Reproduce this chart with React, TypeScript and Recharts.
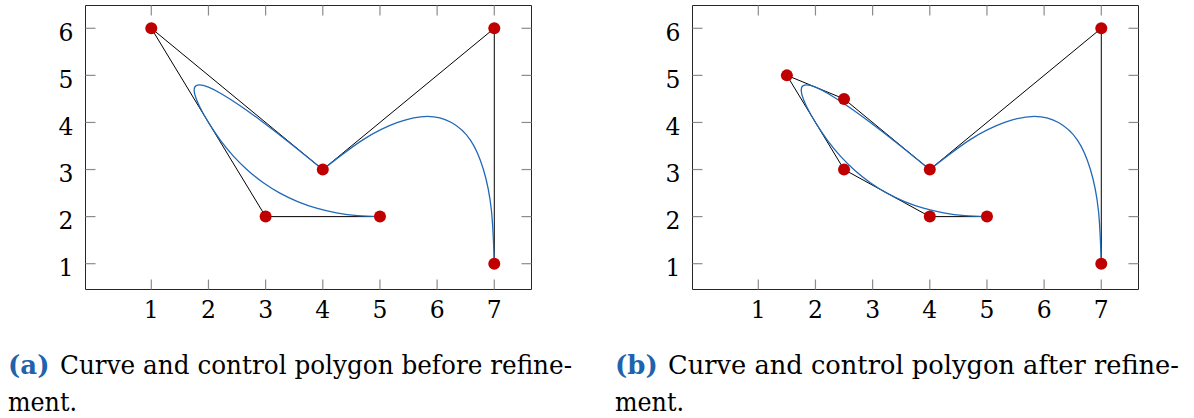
import React from 'react';
import { ComposedChart, Line, Scatter, XAxis, YAxis } from 'recharts';

// ---- data ----
const xTicks = [1, 2, 3, 4, 5, 6, 7];
const yTicks = [1, 2, 3, 4, 5, 6];

// control polygon before refinement
const beforeX = [5, 3, 1, 4, 7, 7];
const beforeY = [2, 2, 6, 3, 6, 1];
// control polygon after refinement
const afterX = [5, 4, 2.5, 1.5, 2.5, 4, 7, 7];
const afterY = [2, 2, 3, 5, 4.5, 3, 6, 1];

// curve, first piece: from (5,2) round the loop to (4,3)
const loopX = [5, 4.61, 4.24, 3.89, 3.56, 3.25, 2.96, 2.69, 2.44, 2.21, 2.0, 1.84, 1.76, 1.76, 1.84, 2.0, 2.24, 2.56, 2.96, 3.44, 4];
const loopY = [2, 2.02, 2.08, 2.18, 2.32, 2.5, 2.72, 2.98, 3.28, 3.62, 4.0, 4.35, 4.6, 4.75, 4.8, 4.75, 4.6, 4.35, 4.0, 3.55, 3];
// curve, second piece: from (4,3) over the arch down to (7,1)
const archX = [4, 4.7, 5.31, 5.83, 6.25, 6.58, 6.81, 6.95, 7];
const archY = [3, 3.63, 4.0, 4.13, 4.0, 3.63, 3.0, 2.13, 1];

const captionA = ['(a)', 'Curve and control polygon before refine-', 'ment.'];
const captionB = ['(b)', 'Curve and control polygon after refine-', 'ment.'];

// ---- styles ----
const X_DOMAIN: [number, number] = [-0.151, 7.651];
const Y_DOMAIN: [number, number] = [0.452, 6.484];
const FRAME = '#262626';
const TICK = '#8c8c8c';
const TICK_LEN = 10;
const RED = '#c00000';
const BLUE = '#2068b8';
const CAP_BLUE = '#1f63ad';
const FONT = 'DejaVu Serif';

type Pt = { x: number; y: number };
const zip = (xs: number[], ys: number[]): Pt[] => xs.map((x, i) => ({ x, y: ys[i] }));

const BottomTick = (p: any) => (
  <g>
    <line x1={p.x} x2={p.x} y1={p.y} y2={p.y - TICK_LEN} stroke={TICK} strokeWidth={1.2} />
    <text x={p.x} y={p.y + 28} textAnchor="middle" fontFamily={FONT} fontSize={23.5} fill="#000">
      {p.payload.value}
    </text>
  </g>
);
const TopTick = (p: any) => (
  <line x1={p.x} x2={p.x} y1={p.y} y2={p.y + TICK_LEN} stroke={TICK} strokeWidth={1.2} />
);
const LeftTick = (p: any) => (
  <g>
    <line x1={p.x} x2={p.x + TICK_LEN} y1={p.y} y2={p.y} stroke={TICK} strokeWidth={1.2} />
    <text x={p.x - 12} y={p.y + 12.3} textAnchor="end" fontFamily={FONT} fontSize={23.5} fill="#000">
      {p.payload.value}
    </text>
  </g>
);
const RightTick = (p: any) => (
  <line x1={p.x - TICK_LEN} x2={p.x} y1={p.y} y2={p.y} stroke={TICK} strokeWidth={1.2} />
);

const DotShape = (p: any) => <circle cx={p.cx} cy={p.cy} r={6} fill={RED} />;

function Panel({ control }: { control: Pt[] }) {
  const loop = zip(loopX, loopY);
  const arch = zip(archX, archY);
  const axisLine = { stroke: FRAME, strokeWidth: 1 };
  return (
    <ComposedChart width={560} height={340} margin={{ top: 4.5, right: 27.5, bottom: 10.5, left: 0 }}>
      <XAxis xAxisId="b" dataKey="x" type="number" domain={X_DOMAIN} allowDataOverflow ticks={xTicks}
        interval={0} tickSize={0} tickMargin={0} height={40} tickLine={false} axisLine={axisLine}
        tick={(p: any) => <BottomTick {...p} />} />
      <XAxis xAxisId="t" orientation="top" dataKey="x" type="number" domain={X_DOMAIN} allowDataOverflow ticks={xTicks}
        interval={0} tickSize={0} tickMargin={0} height={1} tickLine={false} axisLine={axisLine}
        tick={(p: any) => <TopTick {...p} />} />
      <YAxis yAxisId="l" dataKey="y" type="number" domain={Y_DOMAIN} allowDataOverflow ticks={yTicks}
        interval={0} tickSize={0} tickMargin={0} width={85.5} tickLine={false} axisLine={axisLine}
        tick={(p: any) => <LeftTick {...p} />} />
      <YAxis yAxisId="r" orientation="right" dataKey="y" type="number" domain={Y_DOMAIN} allowDataOverflow ticks={yTicks}
        interval={0} tickSize={0} tickMargin={0} width={1} tickLine={false} axisLine={axisLine}
        tick={(p: any) => <RightTick {...p} />} />
      {/* invisible series bound to the frame axes so they are drawn */}
      <Line xAxisId="t" yAxisId="r" data={control} dataKey="y" type="linear" stroke="none"
        dot={false} activeDot={false} isAnimationActive={false} />
      <Line xAxisId="b" yAxisId="l" data={control} dataKey="y" type="linear" stroke="#000"
        strokeWidth={1} dot={false} activeDot={false} isAnimationActive={false} />
      <Line xAxisId="b" yAxisId="l" data={loop} dataKey="y" type="natural" stroke={BLUE}
        strokeWidth={1.3} dot={false} activeDot={false} isAnimationActive={false} />
      <Line xAxisId="b" yAxisId="l" data={arch} dataKey="y" type="natural" stroke={BLUE}
        strokeWidth={1.3} dot={false} activeDot={false} isAnimationActive={false} />
      <Scatter xAxisId="b" yAxisId="l" data={control} dataKey="y" fill={RED}
        shape={(p: any) => <DotShape {...p} />} isAnimationActive={false} />
    </ComposedChart>
  );
}

function Caption({ parts, x, bodyX, right }: { parts: string[]; x: number; bodyX: number; right: number }) {
  return (
    <g fontFamily={FONT} fontSize={26} fill="#000">
      <text x={x} y={374} fontWeight="bold" fill={CAP_BLUE}>{parts[0]}</text>
      <text x={bodyX} y={374} textLength={right - bodyX} lengthAdjust="spacingAndGlyphs">{parts[1]}</text>
      <text x={x} y={411} textLength={69} lengthAdjust="spacingAndGlyphs">{parts[2]}</text>
    </g>
  );
}

export default function App() {
  return (
    <div style={{ position: 'absolute', left: 0, top: 0, width: 1194, height: 418, background: '#fff', overflow: 'hidden' }}>
      <div style={{ position: 'absolute', left: 0, top: 0 }}>
        <Panel control={zip(beforeX, beforeY)} />
      </div>
      <div style={{ position: 'absolute', left: 607, top: 0 }}>
        <Panel control={zip(afterX, afterY)} />
      </div>
      <svg width={1194} height={418} style={{ position: 'absolute', left: 0, top: 0, pointerEvents: 'none' }}>
        <Caption parts={captionA} x={8} bodyX={60} right={572} />
        <Caption parts={captionB} x={615} bodyX={668} right={1179} />
      </svg>
    </div>
  );
}
